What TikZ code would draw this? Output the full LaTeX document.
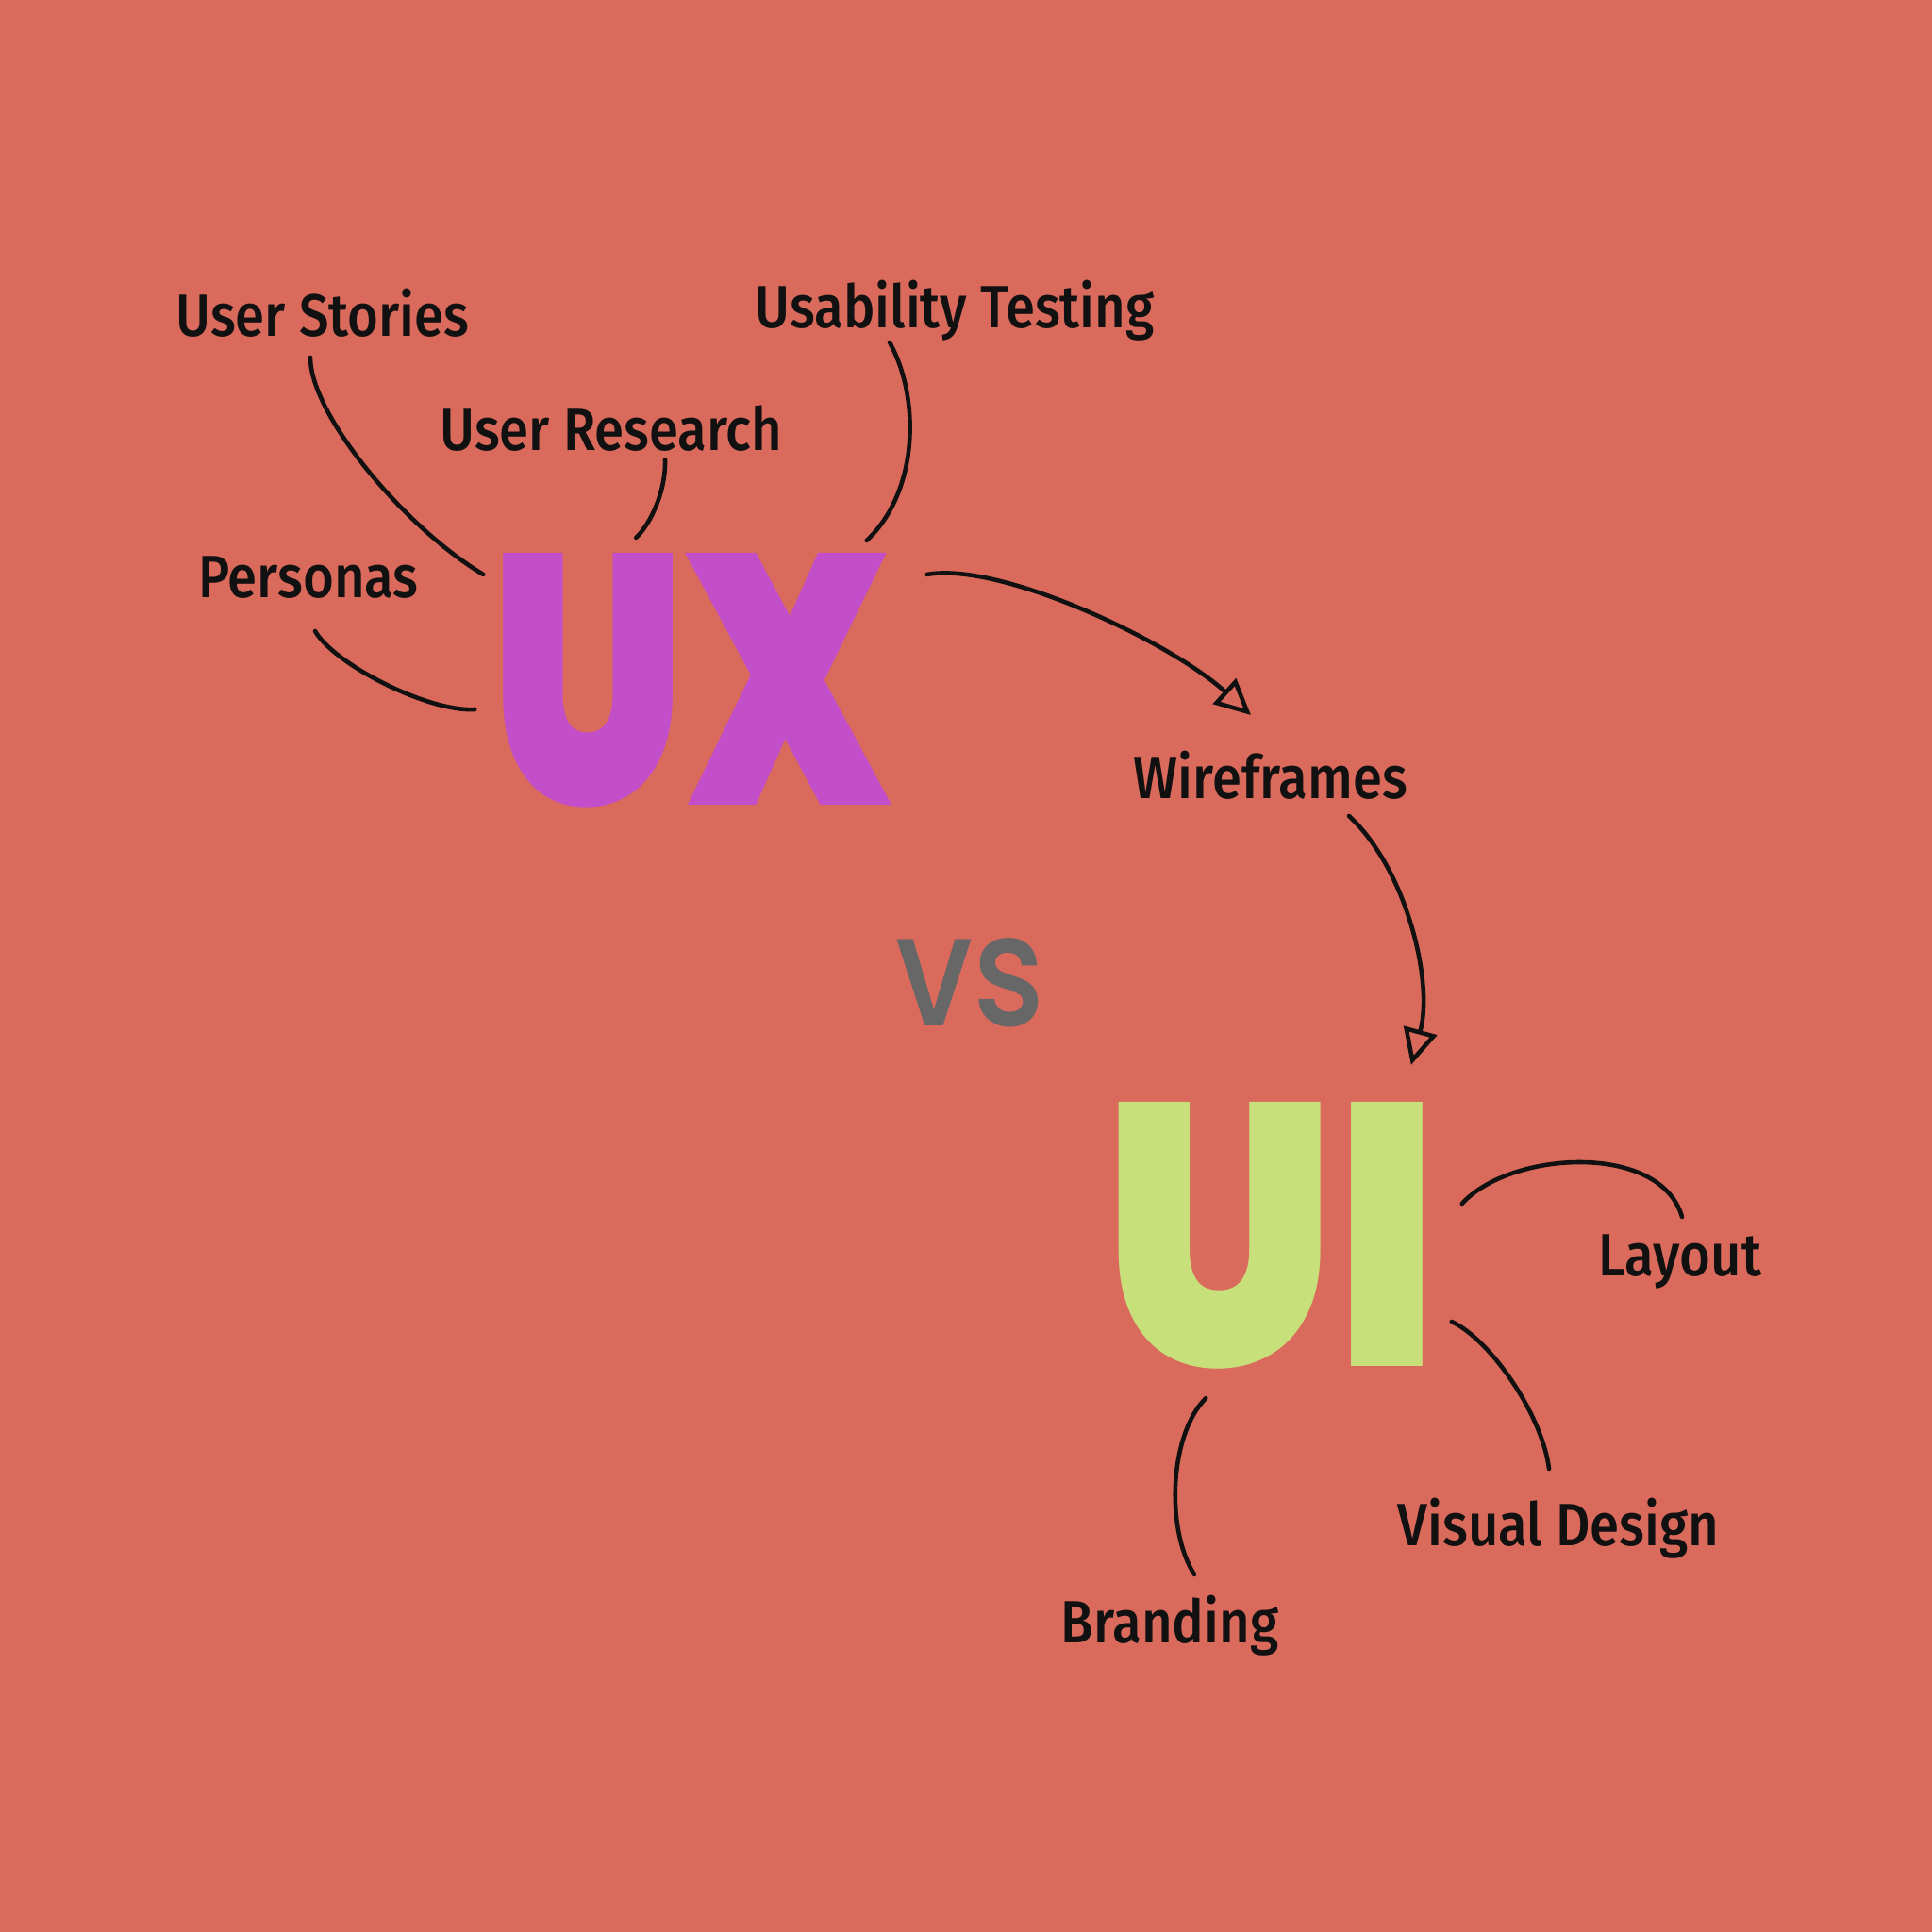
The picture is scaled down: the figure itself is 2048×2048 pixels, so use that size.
\documentclass[tikz,border=0pt]{standalone}
\usepackage{fontspec}
\usepackage{graphicx}
\usetikzlibrary{arrows.meta}
\setmainfont{Fira Sans Medium}
\newfontfamily\heavyfont{Poppins Black}
\newfontfamily\vsfont{Poppins Medium}
\definecolor{bgred}{HTML}{DA6A5C}
\definecolor{uxpurple}{HTML}{C24FC9}
\definecolor{uigreen}{HTML}{C8E07A}
\definecolor{vsgray}{HTML}{676767}
\definecolor{ink}{HTML}{111111}
\tikzset{
  word/.style={anchor=base, inner sep=0pt, text=ink,
    font=\fontsize{18}{21}\selectfont, xscale=0.89, transform shape},
  link/.style={draw=ink, line width=1.3pt, line cap=round},
  flow/.style={link, -{Triangle[open, length=3.8mm, width=3.6mm, line width=1.3pt]}}
}
\begin{document}
\begin{tikzpicture}[x=0.1mm, y=-0.1mm]
\fill[bgred] (0,0) rectangle (2048,2048);
\useasboundingbox (0,0) rectangle (2048,2048);
% big words
\node[inner sep=0pt, text=uxpurple] (ux) at (733,721.5) {\resizebox{42.5mm}{26.7mm}{\heavyfont UX}};
\node[inner sep=0pt, text=uigreen] (ui) at (1348,1310) {\resizebox{35.5mm}{28mm}{\heavyfont UI}};
\node[inner sep=0pt, text=vsgray] (vs) at (1028,1041.5) {\resizebox{15.8mm}{9.3mm}{\vsfont vs}};
% labels round UX
\node[word] (stories) at (342,357) {User Stories};
\node[word] (research) at (648,478) {User Research};
\node[word] (testing) at (1012,347) {Usability Testing};
\node[word] (personas) at (327,633) {Personas};
\node[word] (wireframes) at (1347,846) {Wireframes};
% labels round UI
\node[word] (layout) at (1781,1352) {Layout};
\node[word] (visual) at (1652,1638) {Visual Design};
\node[word] (branding) at (1240,1741) {Branding};
% UX links
\draw[link] ([shift={(-13,22)}]stories.base) .. controls (329,440) and (430,560) .. ([shift={(-7.5,23)}]ux.north west);
\draw[link] ([shift={(57,9)}]research.base) .. controls (706,520) and (690,555) .. ([shift={(154.5,-16)}]ux.north west);
\draw[link] ([shift={(-69,16)}]testing.base) .. controls (975,420) and (975,520) .. ([shift={(-27.5,-13)}]ux.north east);
\draw[link] ([shift={(7,36)}]personas.base) .. controls (355,705) and (455,755) .. ([shift={(-16.5,30.5)}]ux.west);
% flow
\draw[flow] ([shift={(36.5,23)}]ux.north east) .. controls (1060,595) and (1240,680) .. ([shift={(-21,-88)}]wireframes.base);
\draw[flow] ([shift={(83,19)}]wireframes.base) .. controls (1490,920) and (1520,1040) .. ([shift={(-30.5,-39)}]ui.north east);
% UI links
\draw[link] ([shift={(23.5,-34)}]ui.east) .. controls (1600,1220) and (1760,1210) .. ([shift={(2,-62)}]layout.base);
\draw[link] ([shift={(12.5,91)}]ui.east) .. controls (1580,1420) and (1635,1500) .. ([shift={(-10,-81)}]visual.base);
\draw[link] ([shift={(108.5,30)}]ui.south west) .. controls (1240,1520) and (1235,1620) .. ([shift={(26,-72)}]branding.base);
\end{tikzpicture}
\end{document}
